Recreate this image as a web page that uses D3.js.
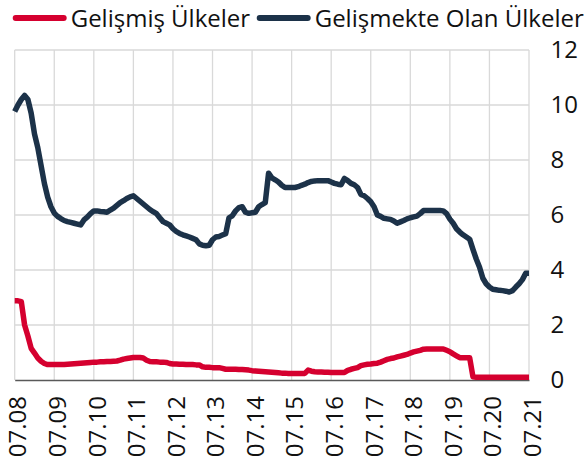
<!DOCTYPE html>
<html>
<head>
<meta charset="utf-8">
<script src="https://cdn.jsdelivr.net/npm/d3@7"></script>
<style>
  html, body { margin: 0; padding: 0; background: #fff; }
  svg { display: block; font-family: "Open Sans", "Noto Sans", sans-serif; }
</style>
</head>
<body>
<svg id="chart" width="587" height="466"></svg>
<script>
// Monthly observations, July 2008 .. July 2021 (index = months since 07.2008)
const seriesNames = ["Gelişmiş Ülkeler", "Gelişmekte Olan Ülkeler"];
const seriesColors = ["#d5002f", "#1c3249"];
const tickLabels = ["07.08","07.09","07.10","07.11","07.12","07.13","07.14","07.15","07.16","07.17","07.18","07.19","07.20","07.21"];
const yTicks = [0, 2, 4, 6, 8, 10, 12];

const developed = [
  2.88,2.88,2.85,2.0,1.6,1.15,0.98,0.8,0.68,0.6,0.56,0.56,
  0.56,0.56,0.56,0.56,0.57,0.58,0.59,0.6,0.61,0.62,0.63,0.64,
  0.65,0.65,0.66,0.66,0.67,0.67,0.68,0.69,0.72,0.76,0.78,0.8,
  0.82,0.82,0.82,0.8,0.72,0.67,0.66,0.66,0.65,0.65,0.64,0.6,
  0.58,0.58,0.57,0.57,0.56,0.56,0.56,0.55,0.55,0.48,0.46,0.46,
  0.45,0.45,0.45,0.42,0.39,0.39,0.39,0.39,0.38,0.38,0.37,0.36,
  0.34,0.33,0.32,0.31,0.30,0.29,0.28,0.27,0.26,0.25,0.25,0.24,
  0.24,0.24,0.24,0.24,0.24,0.36,0.32,0.3,0.29,0.29,0.28,0.28,
  0.27,0.27,0.27,0.27,0.27,0.35,0.39,0.42,0.45,0.52,0.55,0.57,
  0.58,0.6,0.61,0.65,0.7,0.75,0.78,0.8,0.84,0.87,0.9,0.93,
  0.98,1.02,1.05,1.08,1.12,1.13,1.13,1.13,1.13,1.13,1.13,1.08,
  1.03,0.95,0.88,0.81,0.81,0.81,0.81,0.12,0.1,0.1,0.1,0.1,
  0.1,0.1,0.1,0.1,0.1,0.1,0.1,0.1,0.1,0.1,0.1,0.1,
  0.1
];

const emerging = [
  9.76,10.0,10.2,10.35,10.2,9.7,8.95,8.45,7.8,7.15,6.65,6.3,
  6.07,5.95,5.87,5.8,5.76,5.73,5.7,5.67,5.64,5.82,5.92,6.05,
  6.15,6.15,6.13,6.12,6.1,6.18,6.25,6.35,6.45,6.52,6.6,6.66,
  6.7,6.6,6.5,6.4,6.3,6.2,6.12,6.05,5.9,5.76,5.7,5.64,
  5.5,5.4,5.33,5.28,5.24,5.2,5.15,5.1,4.95,4.9,4.88,4.9,
  5.1,5.2,5.22,5.27,5.32,5.9,5.97,6.15,6.27,6.3,6.1,6.06,
  6.08,6.1,6.3,6.38,6.45,7.52,7.35,7.28,7.2,7.08,7.0,7.0,
  7.0,7.0,7.03,7.08,7.12,7.18,7.22,7.24,7.25,7.25,7.25,7.25,
  7.2,7.15,7.12,7.1,7.33,7.25,7.15,7.1,7.0,6.75,6.7,6.6,
  6.48,6.3,6.0,5.95,5.88,5.86,5.84,5.78,5.7,5.75,5.8,5.86,
  5.9,5.93,5.96,6.05,6.16,6.16,6.16,6.16,6.16,6.16,6.15,6.05,
  5.85,5.7,5.5,5.38,5.28,5.2,5.12,4.75,4.4,4.1,3.7,3.5,
  3.38,3.3,3.28,3.26,3.25,3.23,3.2,3.25,3.38,3.5,3.65,3.88,
  3.88
];

const svg = d3.select("#chart");
const mLeft = 14.7, mRight = 529, mTop = 50, mBottom = 380;
const nMonths = (tickLabels.length - 1) * 12;

const x = d3.scaleLinear().domain([0, nMonths]).range([mLeft, mRight]);
const y = d3.scaleLinear().domain([0, 12]).range([mBottom, mTop]);

// grid
const grid = svg.append("g");
grid.selectAll("line.v").data(d3.range(tickLabels.length)).enter().append("line")
  .attr("x1", i => x(i * 12)).attr("x2", i => x(i * 12))
  .attr("y1", mTop).attr("y2", mBottom)
  .attr("stroke", "#d9d9d9").attr("stroke-width", 1.3);
grid.selectAll("line.h").data(yTicks.filter(d => d > 0)).enter().append("line")
  .attr("x1", mLeft).attr("x2", mRight)
  .attr("y1", d => y(d)).attr("y2", d => y(d))
  .attr("stroke", "#d9d9d9").attr("stroke-width", 1.3);

// x axis
const xAxis = d3.axisBottom(x)
  .tickValues(d3.range(tickLabels.length).map(i => i * 12))
  .tickFormat((d, i) => tickLabels[i])
  .tickSize(0).tickPadding(0);
const gx = svg.append("g").attr("transform", `translate(0,${mBottom})`).call(xAxis);
gx.select(".domain").attr("stroke", "#595959").attr("stroke-width", 1.3);
gx.selectAll("text")
  .attr("font-size", 24).attr("fill", "#111")
  .attr("font-family", '"Open Sans", sans-serif')
  .attr("text-anchor", "end")
  .attr("transform", "rotate(-90)")
  .attr("x", -16).attr("y", 0).attr("dy", "0.47em");

// y axis (right)
const yAxis = d3.axisRight(y).tickValues(yTicks).tickSize(0).tickPadding(21.5);
const gy = svg.append("g").attr("transform", `translate(${mRight},0)`).call(yAxis);
gy.select(".domain").remove();
gy.selectAll("text").attr("font-size", 24).attr("fill", "#111")
  .attr("font-family", '"Open Sans", sans-serif');

// lines
const line = d3.line().x((d, i) => x(i)).y(d => y(d)).curve(d3.curveLinear);
[emerging, developed].forEach((s, k) => {
  svg.append("path").datum(s)
    .attr("d", line)
    .attr("fill", "none")
    .attr("stroke", k === 0 ? seriesColors[1] : seriesColors[0])
    .attr("stroke-width", 5.5)
    .attr("stroke-linejoin", "round")
    .attr("stroke-linecap", "butt");
});

// legend
const legend = svg.append("g");
const items = [
  { name: seriesNames[0], color: seriesColors[0], x: 12.7 },
  { name: seriesNames[1], color: seriesColors[1], x: 256.7 }
];
items.forEach(it => {
  legend.append("line").attr("x1", it.x + 3).attr("x2", it.x + 51)
    .attr("y1", 18).attr("y2", 18)
    .attr("stroke", it.color).attr("stroke-width", 6).attr("stroke-linecap", "round");
  legend.append("text").attr("x", it.x + 58).attr("y", 26.5)
    .attr("font-size", 24).attr("fill", "#111").text(it.name);
});
</script>
</body>
</html>
